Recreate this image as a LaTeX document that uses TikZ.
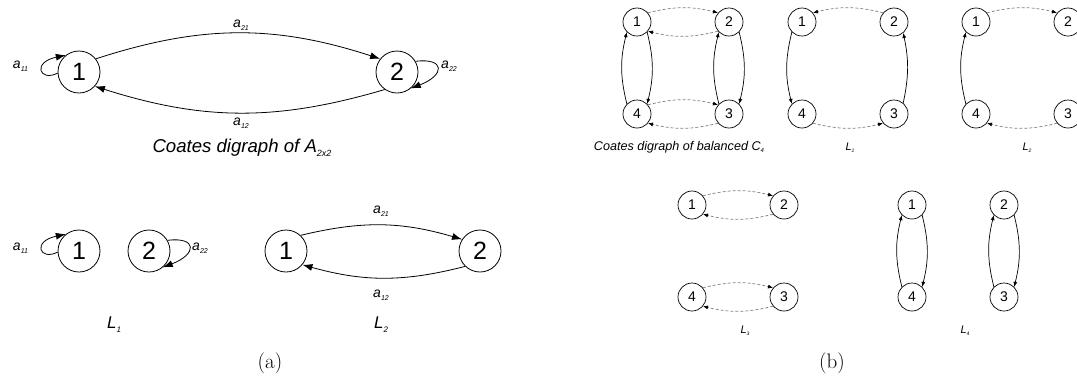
\documentclass[tikz,border=0pt]{standalone}
\usepackage{fontspec}
\newfontfamily\arial{Liberation Sans}
\usetikzlibrary{arrows.meta}
\newcommand{\fs}[1]{\fontsize{#1}{#1}\selectfont}
\newcommand{\aij}[1]{{\fs{14}a}\raisebox{-3pt}{\fs{7}#1}}
\newcommand{\bigL}[1]{{\fs{17}L}\raisebox{-4pt}{\fs{8}#1}}
\newcommand{\smL}[1]{{\fs{11}L}\raisebox{-2.5pt}{\fs{5}#1}}
\tikzset{
  big/.style={circle, draw, line width=0.8pt, minimum size=42pt, inner sep=0pt, font={\arial\fs{25}}},
  sm/.style={circle, draw, line width=0.7pt, minimum size=28pt, inner sep=0pt, font={\arial\fs{14}}},
  lab/.style={anchor=base, inner sep=0pt, font={\arial\itshape}},
  ea/.style={line width=0.8pt, -{Latex[length=10pt,width=7pt]}},
  eb/.style={line width=0.7pt, -{Latex[length=5pt,width=4pt]}},
  db/.style={line width=0.7pt, draw=gray, dash pattern=on 3pt off 2pt, -{Latex[length=5pt,width=4pt,color=black]}}
}
\begin{document}
\begin{tikzpicture}[x=1pt,y=1pt]
\useasboundingbox (0,-376) rectangle (1077,0);
\clip (0,-376) rectangle (1077,0);
% ---------- (a) top
\node[big] (A1) at (79,-72) {1};
\node[big] (A2) at (397,-72) {2};
\draw[ea] (A1.38) to[bend left=18] (A2.142);
\draw[ea] (A2.235) to[bend left=17] (A1.318);
\draw[ea] (A1.183) .. controls +(207:20) and +(192:35) .. (A1.128);
\draw[ea] (A2.30) .. controls +(7:30) and +(21:37) .. (A2.-50);
\node[lab] (la11) at (20.5,-68) {\aij{11}};
\node[lab] (la22) at (449,-68) {\aij{22}};
\node[lab] (la21) at (241,-27) {\aij{21}};
\node[lab] (la12) at (241,-125) {\aij{12}};
\node[lab] (ta) at (242,-152) {{\fs{18.6}Coates digraph of A}\raisebox{-4pt}{\fs{9}2x2}};
% ---------- (a) bottom L1
\node[big] (B1) at (79,-251) {1};
\node[big] (B2) at (149,-251) {2};
\draw[ea] (B1.183) .. controls +(207:20) and +(192:35) .. (B1.128);
\draw[ea] (B2.30) .. controls +(7:30) and +(21:37) .. (B2.-50);
\node[lab] (lb11) at (20.5,-250) {\aij{11}};
\node[lab] (lb22) at (200,-250) {\aij{22}};
\node[lab] (L1a) at (114,-328) {\bigL{1}};
% ---------- (a) bottom L2
\node[big] (C1) at (286,-251) {1};
\node[big] (C2) at (480,-251) {2};
\draw[ea] (C1.47) to[bend left=15] (C2.147);
\draw[ea] (C2.226) to[bend left=15] (C1.320);
\node[lab] (lc21) at (381,-213) {\aij{21}};
\node[lab] (lc12) at (381,-297) {\aij{12}};
\node[lab] (L2a) at (381,-328) {\bigL{2}};
\node[anchor=base, inner sep=0pt, font=\fs{21}] (capa) at (270,-368) {(a)};
% ---------- (b) balanced C4
\node[sm] (c1) at (637,-22) {1};
\node[sm] (c2) at (729,-22) {2};
\node[sm] (c4) at (637,-114) {4};
\node[sm] (c3) at (729,-114) {3};
\draw[db] (c1.40) to[bend left=14] (c2.140);
\draw[db] (c2.220) to[bend left=14] (c1.320);
\draw[db] (c4.40) to[bend left=14] (c3.140);
\draw[db] (c3.220) to[bend left=14] (c4.320);
\draw[eb] (c4.135) to[bend left=14] (c1.225);
\draw[eb] (c1.-45) to[bend left=14] (c4.45);
\draw[eb] (c3.135) to[bend left=14] (c2.225);
\draw[eb] (c2.-45) to[bend left=14] (c3.45);
\node[lab] (tc4) at (679,-150) {{\fs{12.6}Coates digraph of balanced C}\raisebox{-2.5pt}{\fs{6}4}};
% ---------- (b) L1
\node[sm] (d1) at (802,-22) {1};
\node[sm] (d2) at (894,-22) {2};
\node[sm] (d4) at (802,-114) {4};
\node[sm] (d3) at (894,-114) {3};
\draw[db] (d2.140) to[bend right=14] (d1.40);
\draw[eb] (d1.225) to[bend right=14] (d4.135);
\draw[db] (d4.-40) to[bend right=14] (d3.220);
\draw[eb] (d3.50) to[bend right=12] (d2.-50);
\node[lab] (L1b) at (850,-150) {\smL{1}};
% ---------- (b) L2
\node[sm] (e1) at (976,-22) {1};
\node[sm] (e2) at (1068,-22) {2};
\node[sm] (e4) at (976,-114) {4};
\node[sm] (e3) at (1068,-114) {3};
\draw[db] (e1.40) to[bend left=14] (e2.140);
\draw[eb] (e4.135) to[bend left=14] (e1.225);
\draw[db] (e3.220) to[bend left=14] (e4.320);
\draw[eb] (e2.-45) to[bend left=14] (e3.45);
\node[lab] (L2b) at (1027,-150) {\smL{2}};
% ---------- (b) L3
\node[sm] (f1) at (692,-205) {1};
\node[sm] (f2) at (784,-205) {2};
\node[sm] (f4) at (692,-297) {4};
\node[sm] (f3) at (784,-297) {3};
\draw[db] (f1.40) to[bend left=14] (f2.140);
\draw[db] (f2.220) to[bend left=14] (f1.320);
\draw[db] (f4.40) to[bend left=14] (f3.140);
\draw[db] (f3.220) to[bend left=14] (f4.320);
\node[lab] (L3b) at (745,-333) {\smL{3}};
% ---------- (b) L4
\node[sm] (g1) at (912,-205) {1};
\node[sm] (g4) at (912,-297) {4};
\node[sm] (g2) at (1004,-205) {2};
\node[sm] (g3) at (1004,-297) {3};
\draw[eb] (g4.135) to[bend left=14] (g1.225);
\draw[eb] (g1.-45) to[bend left=14] (g4.45);
\draw[eb] (g3.135) to[bend left=14] (g2.225);
\draw[eb] (g2.-45) to[bend left=14] (g3.45);
\node[lab] (L4b) at (965,-333) {\smL{4}};
\node[anchor=base, inner sep=0pt, font=\fs{21}] (capb) at (832,-368) {(b)};
\end{tikzpicture}
\end{document}
